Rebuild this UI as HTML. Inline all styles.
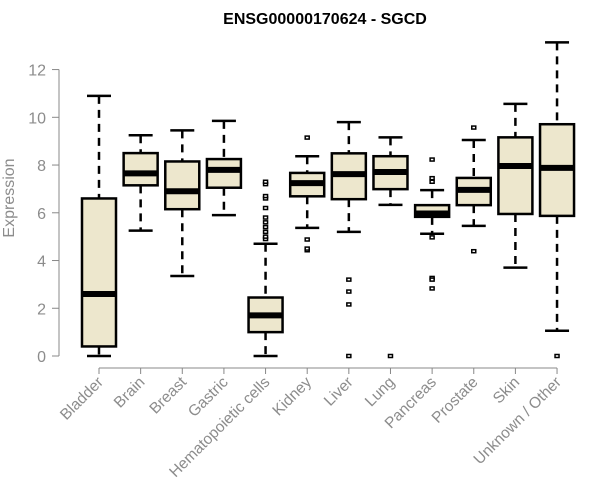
<!DOCTYPE html>
<html><head><meta charset="utf-8"><style>
body{margin:0;background:#fff;}
svg{display:block;font-family:"Liberation Sans",Arial,sans-serif;}
</style></head><body>
<svg id="chart" width="600" height="500">
<text x="325" y="24" text-anchor="middle" font-weight="bold" font-size="16">ENSG00000170624 - SGCD</text>
<text transform="translate(14,198) rotate(-90)" text-anchor="middle" font-size="16" fill="#8c8c8c">Expression</text>
</svg>
<script>
const categories=["Bladder","Brain","Breast","Gastric","Hematopoietic cells","Kidney","Liver","Lung","Pancreas","Prostate","Skin","Unknown / Other"];
const lowWhisker=[0,5.25,3.35,5.9,0,5.37,5.2,6.33,5.12,5.45,3.7,1.06];
const q1=[0.4,7.15,6.15,7.05,1.0,6.69,6.57,6.99,5.83,6.32,5.95,5.87];
const medians=[2.6,7.65,6.9,7.8,1.7,7.24,7.62,7.71,5.97,6.96,7.96,7.88];
const q3=[6.6,8.5,8.15,8.25,2.45,7.67,8.49,8.37,6.32,7.46,9.16,9.71];
const highWhisker=[10.9,9.25,9.45,9.85,4.7,8.37,9.8,9.16,6.95,9.05,10.56,13.14];
const outliers=[[],[],[],[],[4.9,5.0,5.2,5.4,5.6,5.8,6.2,6.6,6.7,7.2,7.3],[9.15,4.88,4.43,4.5],[3.2,2.7,2.16,0],[0],[8.23,7.45,7.3,4.97,3.27,3.2,2.83],[9.57,4.39],[],[0]];
const yTicks=[0,2,4,6,8,10,12];

const NS="http://www.w3.org/2000/svg";
const svg=document.getElementById('chart');
const y=v=>356-v*23.87;
const x=i=>99+i*41.64;
function mk(tag,attrs,parent){const e=document.createElementNS(NS,tag);for(const k in attrs)e.setAttribute(k,attrs[k]);(parent||svg).appendChild(e);return e;}
const ya=mk('g',{});


mk('line',{x1:59,x2:59,y1:y(12),y2:y(0),stroke:'#888','stroke-width':1},ya);
yTicks.forEach(t=>{
  mk('line',{x1:52,x2:59,y1:y(t),y2:y(t),stroke:'#888'},ya);
  const tx=mk('text',{x:46,y:y(t)+6,'text-anchor':'end','font-size':16,fill:'#8c8c8c'},ya);
  tx.textContent=t;
  
  
});
const xa=mk('g',{});


mk('line',{x1:x(0),x2:x(categories.length-1),y1:368,y2:368,stroke:'#888'},xa);
categories.forEach((c,i)=>{
  mk('line',{x1:x(i),x2:x(i),y1:368,y2:374,stroke:'#888'},xa);
  const tx=mk('text',{transform:`translate(${x(i)+5},${383}) rotate(-45)`,'text-anchor':'end','font-size':15.5,fill:'#8c8c8c'},xa);
  tx.textContent=c;
  
  
});
categories.forEach((c,i)=>{
  const g=mk('g',{});
  
  
  const cx=x(i),hw=17,cap=12;
  mk('line',{x1:cx,x2:cx,y1:y(highWhisker[i]),y2:y(q3[i]),stroke:'#000','stroke-width':2.5,'stroke-dasharray':'8,6'},g);
  mk('line',{x1:cx,x2:cx,y1:y(q1[i]),y2:y(lowWhisker[i]),stroke:'#000','stroke-width':2.5,'stroke-dasharray':'8,6'},g);
  mk('line',{x1:cx-cap,x2:cx+cap,y1:y(highWhisker[i]),y2:y(highWhisker[i]),stroke:'#000','stroke-width':2.5},g);
  mk('line',{x1:cx-cap,x2:cx+cap,y1:y(lowWhisker[i]),y2:y(lowWhisker[i]),stroke:'#000','stroke-width':2.5},g);
  mk('rect',{x:cx-hw,y:y(q3[i]),width:hw*2,height:y(q1[i])-y(q3[i]),fill:'#ede7cd',stroke:'#000','stroke-width':2.5},g);
  mk('line',{x1:cx-hw,x2:cx+hw,y1:y(medians[i]),y2:y(medians[i]),stroke:'#000','stroke-width':6},g);
  outliers[i].forEach(o=>{
    const r=mk('rect',{x:cx-2,y:y(o)-1.5,width:4,height:3,fill:'#fff',stroke:'#000','stroke-width':1.5},g);
    
    
  });
});
</script>
</body></html>
